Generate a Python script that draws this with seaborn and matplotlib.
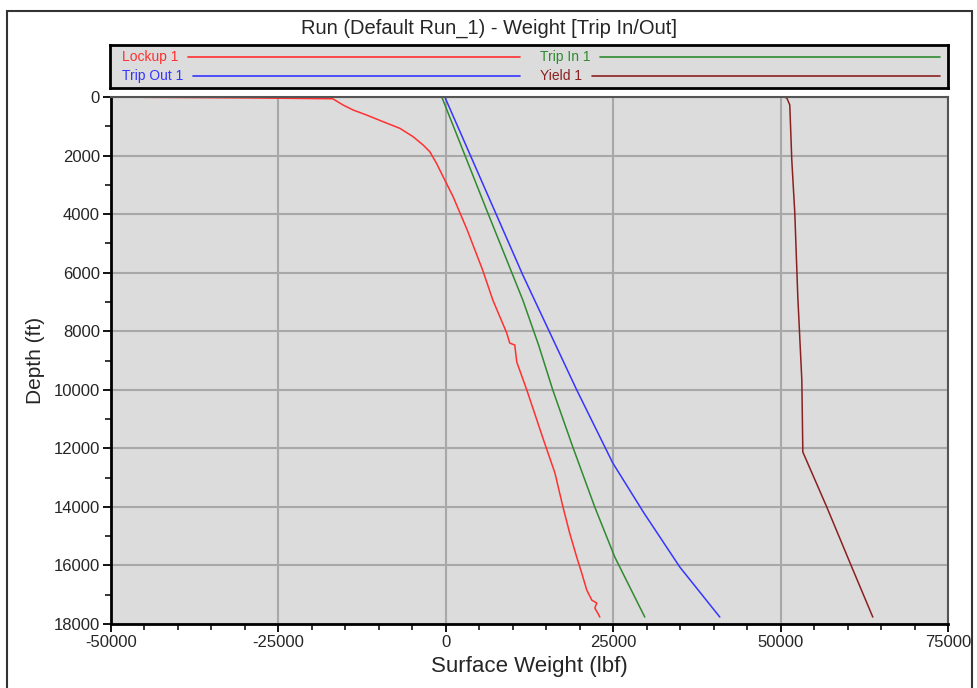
import numpy as np
import pandas as pd
import matplotlib
matplotlib.use("Agg")
import matplotlib.pyplot as plt
from matplotlib.ticker import MultipleLocator
from matplotlib.patches import Rectangle
import seaborn as sns

# depth (ft) / surface weight (lbf)
lockup_depth = [10, 30, 60, 102, 273, 444, 615, 844, 1069, 1356, 1640, 1868, 2265, 2722,
                3405, 4543, 5910, 6934, 8062, 8404, 8472, 9053, 10009, 11717, 12844,
                14006, 14894, 15714, 16260, 16841, 17183, 17285, 17456, 17627, 17763]
lockup_weight = [-45000, -30000, -16900, -16580, -15340, -13840, -11840, -9360, -6870,
                 -4880, -3390, -2390, -1390, -400, 1090, 3200, 5500, 7020, 9100, 9550,
                 10300, 10600, 12100, 14600, 16300, 17500, 18500, 19550, 20300, 21050,
                 21800, 22550, 22250, 22700, 23000]

trip_in_depth = [0, 3860, 6934, 8500, 10009, 11956, 14006, 15714, 17422, 17763]
trip_in_weight = [-600, 6100, 11500, 13900, 15980, 18970, 22250, 25240, 28970, 29720]

trip_out_depth = [0, 6080, 10009, 12502, 14211, 16055, 17763]
trip_out_weight = [-150, 11500, 19560, 24940, 29600, 34950, 40920]

yield_depth = [0, 34, 273, 2152, 3962, 6831, 9666, 12126, 14006, 16055, 17763]
yield_weight = [50500, 50930, 51370, 51670, 52120, 52570, 53170, 53320, 56900, 60630, 63770]

series = ["Lockup 1", "Trip Out 1", "Trip In 1", "Yield 1"]
colors = {"Lockup 1": "#ff3030", "Trip Out 1": "#3535ff",
          "Trip In 1": "#2f8a2f", "Yield 1": "#8b2020"}

frames = []
for name, d, w in [("Lockup 1", lockup_depth, lockup_weight),
                   ("Trip Out 1", trip_out_depth, trip_out_weight),
                   ("Trip In 1", trip_in_depth, trip_in_weight),
                   ("Yield 1", yield_depth, yield_weight)]:
    frames.append(pd.DataFrame({"depth": d, "weight": w, "series": name}))
df = pd.concat(frames, ignore_index=True)

sns.set_style("ticks")
plt.rcParams["font.family"] = ["Liberation Sans", "DejaVu Sans"]
plt.rcParams["axes.unicode_minus"] = False

W, H = 978, 688
fig = plt.figure(figsize=(9.78, 6.88), dpi=100, facecolor="white")

# outer frame
fig.patches.append(Rectangle((7 / W, -0.05), 965 / W, 1 - 11 / H + 0.05,
                             transform=fig.transFigure, fill=False,
                             edgecolor="#333333", lw=1.5))
fig.text(0.5, 1 - 28 / H, "Run (Default Run_1) - Weight [Trip In/Out]",
         ha="center", va="center", fontsize=14.5)

ax = fig.add_axes([111 / W, 1 - 624 / H, 837 / W, 527 / H])
ax.set_facecolor("#dcdcdc")
for name in series:
    sub = df[df["series"] == name]
    sns.lineplot(data=sub, x="weight", y="depth", sort=False, estimator=None,
                 color=colors[name], lw=1.1, ax=ax)

ax.set_xlim(-50000, 75000)
ax.set_ylim(18000, 0)
ax.xaxis.set_major_locator(MultipleLocator(25000))
ax.xaxis.set_minor_locator(MultipleLocator(5000))
ax.yaxis.set_major_locator(MultipleLocator(2000))
ax.yaxis.set_minor_locator(MultipleLocator(1000))
ax.grid(True, which="major", color="#a8a8a8", lw=1.5)
ax.set_axisbelow(True)
ax.tick_params(which="major", direction="out", length=6, width=1.3, labelsize=12,
               color="black", pad=2)
ax.tick_params(which="minor", direction="out", length=4, width=1.1, color="black")
for s in ["left", "bottom"]:
    ax.spines[s].set_color("black")
    ax.spines[s].set_linewidth(2)
for s in ["top", "right"]:
    ax.spines[s].set_color("#555555")
    ax.spines[s].set_linewidth(1.5)
ax.set_xlabel("Surface Weight (lbf)", fontsize=16, labelpad=4)
ax.set_ylabel("Depth (ft)", fontsize=15, labelpad=6)

# legend box
lax = fig.add_axes([110 / W, 1 - 88 / H, 838 / W, 43 / H])
lax.set_facecolor("#dcdcdc")
lax.set_xlim(0, 1)
lax.set_ylim(0, 1)
lax.set_xticks([])
lax.set_yticks([])
for s in lax.spines.values():
    s.set_color("black")
    s.set_linewidth(2)
fig.canvas.draw()
renderer = fig.canvas.get_renderer()
col_start = [0.014, 0.513]
col_end = [0.489, 0.990]
row_y = [0.72, 0.28]
for i, name in enumerate(series):
    c, r = i // 2, i % 2
    t = lax.text(col_start[c], row_y[r], name, color=colors[name], fontsize=10,
                 va="center", ha="left")
    bb = t.get_window_extent(renderer).transformed(lax.transAxes.inverted())
    lax.plot([bb.x1 + 0.012, col_end[c]], [row_y[r], row_y[r]],
             color=colors[name], lw=1.2)

fig.savefig("out.png", dpi=100, facecolor="white")
